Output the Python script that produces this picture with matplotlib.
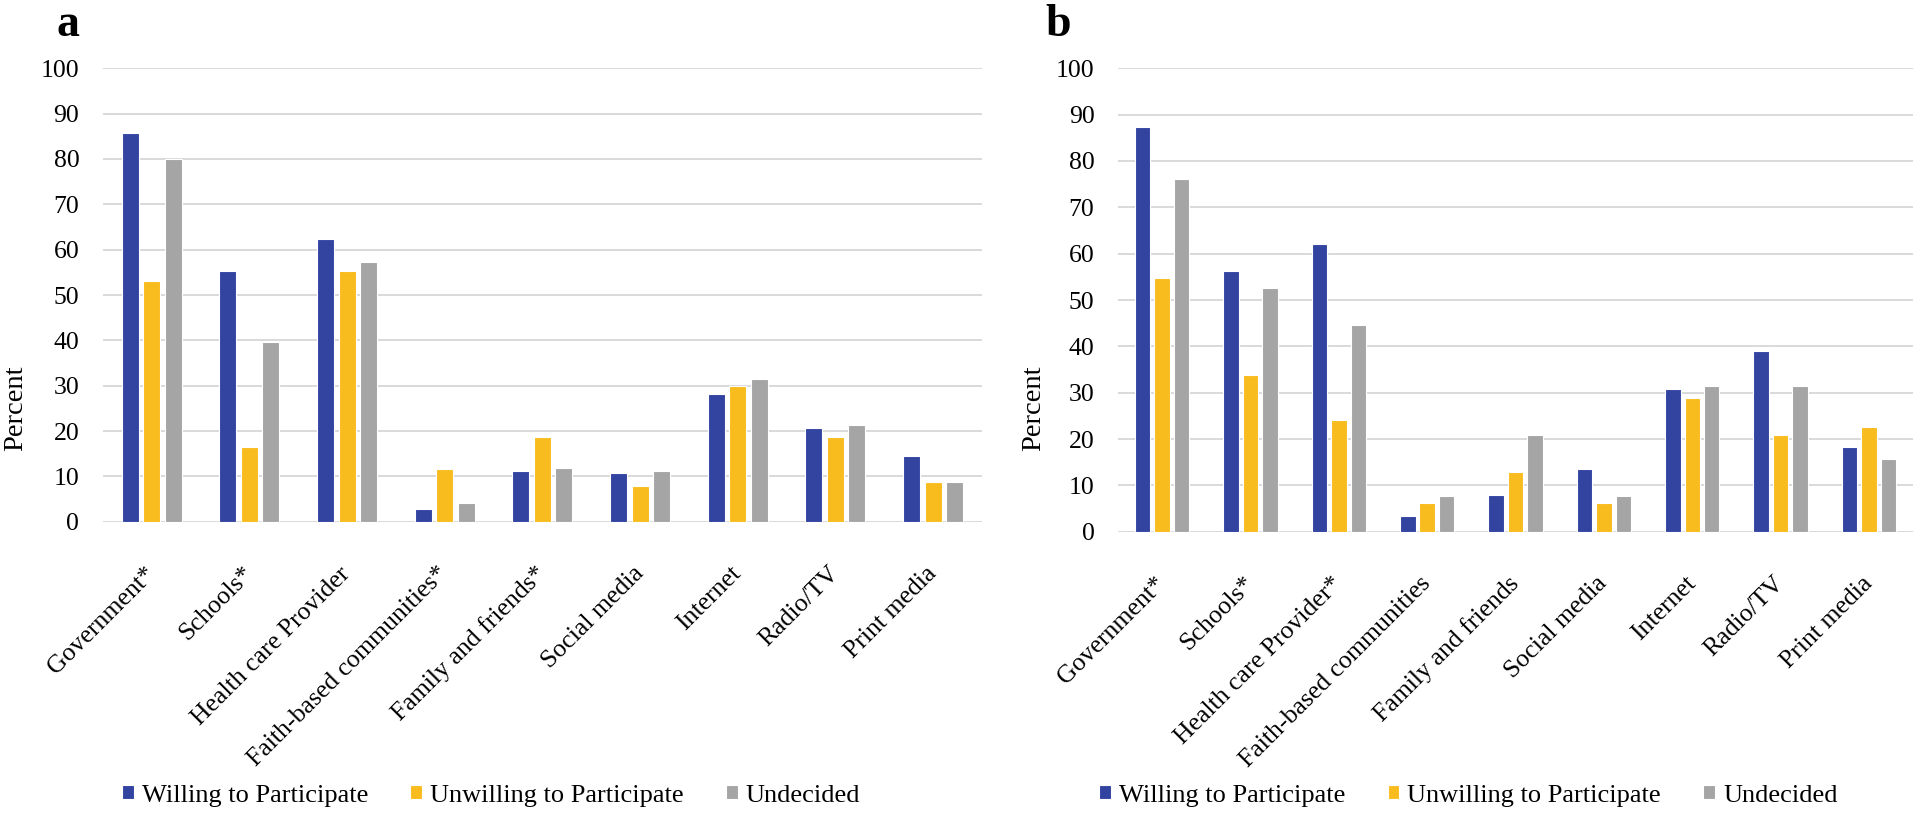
import matplotlib
matplotlib.use("Agg")
import matplotlib.pyplot as plt
import numpy as np

plt.rcParams['font.family'] = ['Liberation Serif', 'DejaVu Serif']

# categories of each panel
cats_a = ["Government*", "Schools*", "Health care Provider", "Faith-based communities*",
          "Family and friends*", "Social media", "Internet", "Radio/TV", "Print media"]
cats_b = ["Government*", "Schools*", "Health care Provider*", "Faith-based communities",
          "Family and friends", "Social media", "Internet", "Radio/TV", "Print media"]

series = ["Willing to Participate", "Unwilling to Participate", "Undecided"]
colors = ["#3243A0", "#F9BC1E", "#A5A5A5"]

# panel a values (percent)
willing_a = [85.8, 55.3, 62.4, 2.8, 11.2, 10.7, 28.2, 20.7, 14.5]
unwilling_a = [53.0, 16.5, 55.3, 11.6, 18.7, 7.9, 29.9, 18.7, 8.8]
undecided_a = [79.9, 39.6, 57.3, 4.1, 11.8, 11.1, 31.4, 21.3, 8.8]

# panel b values (percent)
willing_b = [87.3, 56.2, 62.0, 3.3, 7.9, 13.6, 30.8, 39.0, 18.2]
unwilling_b = [54.7, 33.8, 24.1, 6.3, 12.8, 6.2, 28.8, 20.8, 22.5]
undecided_b = [76.2, 52.5, 44.6, 7.8, 20.8, 7.7, 31.4, 31.4, 15.6]

fig = plt.figure(figsize=(19.2, 8.17), dpi=100)

ax_a = fig.add_axes([0.0536, 0.3614, 0.4578, 0.555])
ax_b = fig.add_axes([0.5823, 0.3492, 0.4141, 0.5672])


def draw_panel(ax, cats, vals, letter, letter_x, ylab_x, leg_x, leg_y):
    x = np.arange(len(cats))
    w = 0.175
    off = 0.22
    for i, (v, c, name) in enumerate(zip(vals, colors, series)):
        ax.bar(x + (i - 1) * off, v, width=w, color=c, edgecolor="white",
               linewidth=0.8, label=name, zorder=3)
    ax.set_xlim(-0.5, len(cats) - 0.5)
    ax.set_ylim(0, 100)
    ax.set_yticks(range(0, 101, 10))
    ax.yaxis.grid(True, color="#D9D9D9", linewidth=1.4)
    ax.set_axisbelow(True)
    for s in ax.spines.values():
        s.set_visible(False)
    ax.tick_params(axis="y", length=0, pad=17, labelsize=18.5)
    ax.tick_params(axis="x", length=0, pad=35, labelsize=18.5)
    ax.set_xticks(x)
    ax.set_xticklabels(cats, rotation=45, ha="right", va="center",
                       rotation_mode="anchor")
    ax.set_ylabel("Percent", fontsize=20.5)
    ax.yaxis.set_label_coords(ylab_x, 0.5, transform=fig.transFigure)
    fig.text(letter_x, 0.97, letter, fontsize=33, fontweight="bold",
             ha="center", va="center")
    ax.legend(loc="center left", bbox_to_anchor=(leg_x, leg_y),
              bbox_transform=fig.transFigure, ncol=3, frameon=False,
              fontsize=19, handlelength=0.45, handleheight=0.45,
              handletextpad=0.3, columnspacing=1.6, borderpad=0, borderaxespad=0)


draw_panel(ax_a, cats_a, [willing_a, unwilling_a, undecided_a], "a",
           0.0354, 0.0146, 0.0635, 0.026)
draw_panel(ax_b, cats_b, [willing_b, unwilling_b, undecided_b], "b",
           0.551, 0.5448, 0.5725, 0.026)

fig.savefig("out.png", dpi=100)
